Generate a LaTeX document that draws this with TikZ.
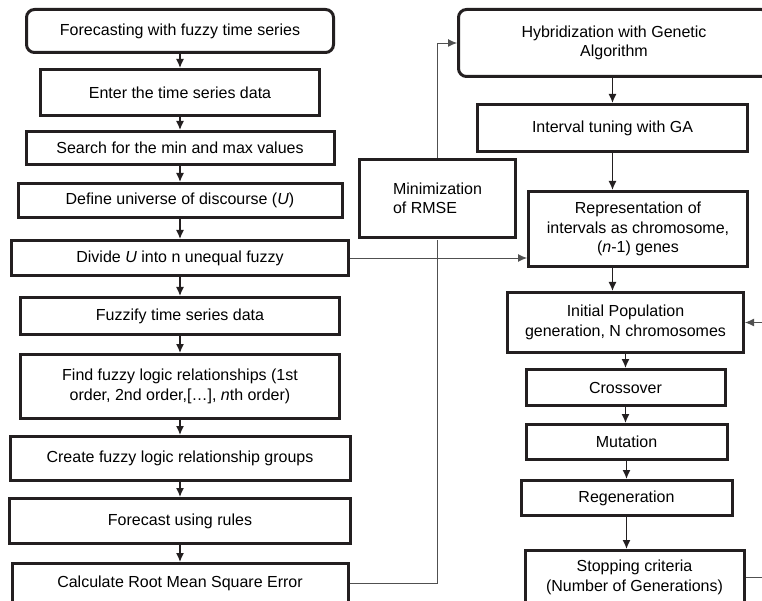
\documentclass[tikz,border=0pt]{standalone}
\usepackage{fontspec}
\setmainfont{Liberation Sans}
\usetikzlibrary{positioning,arrows.meta}

\definecolor{boxline}{RGB}{35,31,32}
\definecolor{backline}{RGB}{80,80,80}

\tikzset{
  stepbox/.style={draw=boxline, line width=3pt, inner sep=1pt, align=center,
    font=\fontsize{16pt}{19.5pt}\selectfont},
  startbox/.style={stepbox, rounded corners=8pt},
  flow/.style={->, line width=1.4pt, draw=boxline},
  back/.style={line width=0.9pt, draw=backline},
  >={Latex[length=9pt,width=8pt]}
}

\begin{document}
\begin{tikzpicture}[x=1pt,y=-1pt]
    \path[use as bounding box, clip] (0,0) rectangle (762,601);

    % fuzzy time series column
    \node (f1) [startbox, minimum width=307pt, minimum height=43pt] at (180,31) {Forecasting with fuzzy time series};
    \node (f2) [stepbox, below=14pt of f1, minimum width=279pt, minimum height=46pt] {Enter the time series data};
    \node (f3) [stepbox, below=13pt of f2, minimum width=308pt, minimum height=33pt] {Search for the min and max values};
    \node (f4) [stepbox, below=16pt of f3, minimum width=324pt, minimum height=34pt] {Define universe of discourse (\textit{U})};
    \node (f5) [stepbox, below=20pt of f4, minimum width=337pt, minimum height=35pt] {Divide \textit{U} into n unequal fuzzy};
    \node (f6) [stepbox, below=19pt of f5, minimum width=319pt, minimum height=37pt] {Fuzzify time series data};
    \node (f7) [stepbox, below=17pt of f6, minimum width=319pt, minimum height=64pt] {Find fuzzy logic relationships (1st\\order, 2nd order,[…], \textit{n}th order)};
    \node (f8) [stepbox, below=15pt of f7, minimum width=340pt, minimum height=44pt] {Create fuzzy logic relationship groups};
    \node (f9) [stepbox, below=15pt of f8, minimum width=341pt, minimum height=45pt] {Forecast using rules};
    \node (f10) [stepbox, below=17pt of f9, minimum width=336pt, minimum height=40pt] {Calculate Root Mean Square Error};

    % genetic algorithm column
    \node (g1) [startbox, minimum width=311pt, minimum height=67pt] at (614,43) {Hybridization with Genetic\\Algorithm};
    \node (g2) [stepbox, below=25pt of g1, xshift=-1.5pt, minimum width=270pt, minimum height=47pt] {Interval tuning with GA};
    \node (g3) [stepbox, below=37pt of g2, xshift=25.5pt, minimum width=219pt, minimum height=75pt] {Representation of\\intervals as chromosome,\\(\textit{n}-1) genes};
    \node (g4) [stepbox, below=23pt of g3, xshift=-12.5pt, minimum width=236pt, minimum height=60pt] {Initial Population\\generation, N chromosomes};
    \node (g5) [stepbox, below=14pt of g4, minimum width=199pt, minimum height=36pt] {Crossover};
    \node (g6) [stepbox, below=16pt of g5, xshift=1pt, minimum width=201pt, minimum height=35pt] {Mutation};
    \node (g7) [stepbox, below=18pt of g6, minimum width=211pt, minimum height=35pt] {Regeneration};
    \node (g8) [stepbox, below=32pt of g7, xshift=8pt, minimum width=219pt, minimum height=54pt] {Stopping criteria\\(Number of Generations)};

    % feedback lines
    \draw[back] (f10.east) -| (437.5,240);
    \draw[back, ->] (437.5,158) |- (g1.west);
    \draw[back, ->] (f5.east) -- (f5.east -| g3.west);
    \draw[back, ->] (g8.east) -- ++(30pt,0) |- (g4.east);

    \node (min) [stepbox, fill=white, align=left, minimum width=156pt, minimum height=78pt] at (437.5,198.5) {Minimization\\of RMSE};

    \foreach \a/\b in {f1/f2,f2/f3,f3/f4,f4/f5,f5/f6,f6/f7,f7/f8,f8/f9,f9/f10,
                       g4/g5,g5/g6,g6/g7,g7/g8}
        \draw[flow] (\a.south) -- (\a.south |- \b.north);
    \draw[flow] (g2.north |- g1.south) -- (g2.north);
    \draw[flow] (g2.south) -- (g2.south |- g3.north);
    \draw[flow] (g2.south |- g3.south) -- (g2.south |- g4.north);

\end{tikzpicture}
\end{document}
